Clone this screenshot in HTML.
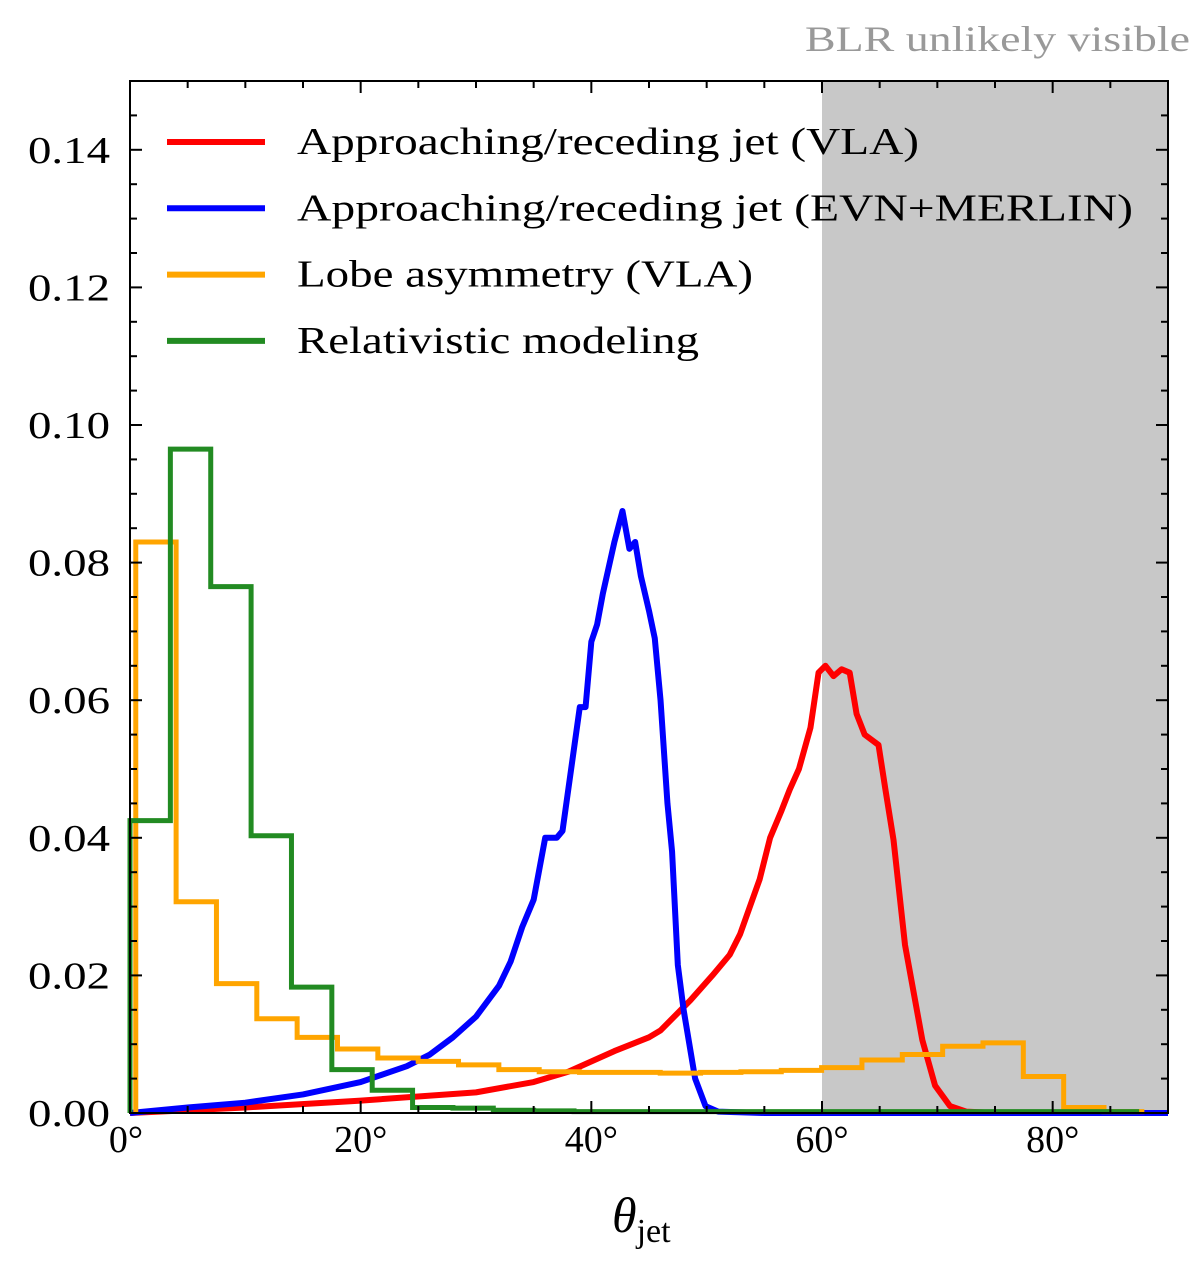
<!DOCTYPE html>
<html><head><meta charset="utf-8"><style>
body{margin:0;background:#fff;}
svg{display:block;font-family:"Liberation Serif",serif;}
</style></head><body>
<svg id="chart" width="1200" height="1265" viewBox="0 0 1200 1265" xmlns="http://www.w3.org/2000/svg"></svg>
<script>
// ---- data ----
const greenStart = 0.0, greenWidth = 3.5;
const greenVals = [0.0425,0.0965,0.0765,0.0403,0.0183,0.0063,0.0033,0.0008,0.0007,0.0004,0.0003,0.0002,0.0002,0.0002,0.0002,0.0002,0.0002,0.0002,0.0002,0.0002,0.0002,0.0002,0.0002,0.0002,0.0002];
const orangeStart = 0.5, orangeWidth = 3.498;
const orangeVals = [0.083,0.0307,0.0188,0.0137,0.011,0.0093,0.0080,0.0075,0.0070,0.0063,0.0060,0.0059,0.0059,0.0058,0.0059,0.0060,0.0062,0.0066,0.0077,0.0085,0.0097,0.0102,0.0053,0.0008,0.0002];
const blueX = [0,5,10,15,20,24,26,28,30,32,33,34,35,36,37,37.5,38,39,39.5,40,40.5,41,42,42.7,43.3,43.8,44.3,45,45.5,46,46.6,47,47.5,48,49,49.9,51,55,90];
const blueY = [0,0.0008,0.0015,0.0027,0.0045,0.0068,0.0085,0.011,0.014,0.0185,0.022,0.027,0.031,0.040,0.040,0.041,0.047,0.059,0.059,0.0685,0.071,0.0755,0.083,0.0875,0.082,0.083,0.078,0.073,0.069,0.060,0.045,0.038,0.0215,0.015,0.005,0.001,0.0002,0,0];
const redX = [0,10,20,30,35,38,42,45,46,48.6,50.5,52,52.9,54.6,55.5,56.5,57.2,58,59,59.7,60.3,61,61.7,62.4,63,63.7,64.9,65.5,66.2,67.2,68.7,69.8,71.1,72.5,75,90];
const redY = [0,0.0008,0.0018,0.003,0.0045,0.006,0.009,0.011,0.012,0.0164,0.020,0.023,0.026,0.034,0.040,0.044,0.047,0.050,0.056,0.064,0.065,0.0635,0.0645,0.064,0.058,0.055,0.0535,0.047,0.0397,0.0244,0.0106,0.004,0.001,0.0002,0,0];
const xTicks = [0,20,40,60,80];
const xTickLabels = ["0°","20°","40°","60°","80°"];
const yTicks = [0,0.02,0.04,0.06,0.08,0.10,0.12,0.14];
const yTickLabels = ["0.00","0.02","0.04","0.06","0.08","0.10","0.12","0.14"];
const legendLabels = ["Approaching/receding jet (VLA)","Approaching/receding jet (EVN+MERLIN)","Lobe asymmetry (VLA)","Relativistic modeling"];
const legendColors = ["#ff0000","#0000ff","#ffa500","#228b22"];
const legendWidths = [622,836,456,402];

// ---- axes ----
const L=130,R=1168,T=81,B=1113;
const sx=v=>L+(v/90)*(R-L);
const sy=v=>B-(v/0.15)*(B-T);
const NS="http://www.w3.org/2000/svg";
const svg=document.getElementById('chart');
function mk(tag,attrs,parent){const e=document.createElementNS(NS,tag);for(const k in attrs)e.setAttribute(k,attrs[k]);(parent||svg).appendChild(e);return e;}

const shade=mk('rect',{x:sx(60),y:T,width:sx(90)-sx(60),height:B-T,fill:'#c8c8c8'});



function histPath(start,w,vals){
  let d=`M${sx(start)},${sy(0)}`;
  vals.forEach((v,i)=>{const x0=sx(start+i*w),x1=sx(Math.min(90,start+(i+1)*w));d+=` L${x0},${sy(v)} L${x1},${sy(v)}`;});
  return d;
}
function linePath(xs,ys){return xs.map((x,i)=>(i?'L':'M')+sx(x)+','+sy(ys[i])).join(' ');}

const pr=mk('path',{d:linePath(redX,redY),fill:'none',stroke:'#ff0000','stroke-width':6,'stroke-linejoin':'round'});


const pb=mk('path',{d:linePath(blueX,blueY),fill:'none',stroke:'#0000ff','stroke-width':6,'stroke-linejoin':'round'});


const po=mk('path',{d:histPath(orangeStart,orangeWidth,orangeVals),fill:'none',stroke:'#ffa500','stroke-width':5});


const pg=mk('path',{d:histPath(greenStart,greenWidth,greenVals),fill:'none',stroke:'#228b22','stroke-width':5});



const frame=mk('rect',{x:L,y:T,width:R-L,height:B-T,fill:'none',stroke:'#000','stroke-width':2});



// ticks
for(let v=0;v<=90;v+=5){const x=sx(v),len=(v%20===0)?12:7;
  mk('line',{x1:x,y1:B,x2:x,y2:B-len,stroke:'#000','stroke-width':2});
  mk('line',{x1:x,y1:T,x2:x,y2:T+len,stroke:'#000','stroke-width':2});}
for(let i=0;i<=30;i++){const v=i*0.005,y=sy(v),len=(i%4===0)?12:7;
  mk('line',{x1:L,y1:y,x2:L+len,y2:y,stroke:'#000','stroke-width':2});
  mk('line',{x1:R,y1:y,x2:R-len,y2:y,stroke:'#000','stroke-width':2});}
xTicks.forEach((v,i)=>{const t=mk('text',{x:sx(v)+(i===0?-4:0),y:1152,'font-size':38,'text-anchor':'middle'});t.textContent=xTickLabels[i];
  
  });
yTicks.forEach((v,i)=>{const t=mk('text',{x:110,y:sy(v)+13,'font-size':38,'text-anchor':'end',textLength:82,lengthAdjust:'spacingAndGlyphs'});t.textContent=yTickLabels[i];
  
  });

// legend
legendLabels.forEach((lab,i)=>{const y=142+i*66.3;
  const ln=mk('line',{x1:167,y1:y,x2:265,y2:y,stroke:legendColors[i],'stroke-width':6});
  
  
  const t=mk('text',{x:297,y:y+12,'font-size':38,textLength:legendWidths[i],lengthAdjust:'spacingAndGlyphs'});t.textContent=lab;
  
  });

const xl=mk('text',{x:612,y:1232,'font-size':50,'font-style':'italic'});
xl.innerHTML='θ<tspan font-size="34" font-style="normal" dy="10">jet</tspan>';


const bt=mk('text',{x:1190,y:51,'font-size':36,fill:'#999','text-anchor':'end',textLength:385,lengthAdjust:'spacingAndGlyphs'});
bt.textContent='BLR unlikely visible';


</script>
</body></html>
